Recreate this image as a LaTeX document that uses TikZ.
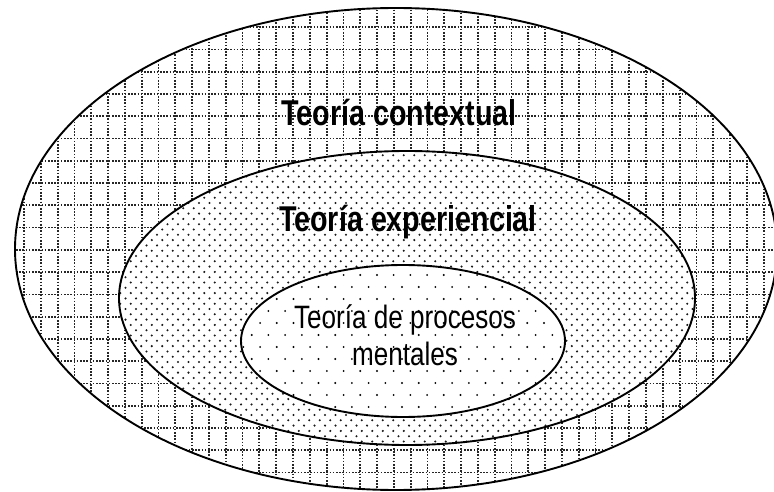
\documentclass[tikz,border=0pt]{standalone}
\usepackage{fontspec}
\usepackage{graphicx}
\setmainfont{Liberation Sans}
\tikzset{
  rim/.style={draw=black, line width=1.9pt},
  gridline/.style={draw=black!85, line width=1.8pt, dash pattern=on 1.6pt off 1.6pt},
  lbl/.style={anchor=base, inner sep=0pt, text=black},
}
\newcommand{\bigtxt}[1]{\scalebox{1}[1.25]{\fontsize{28.7}{34}\selectfont\bfseries #1}}
\newcommand{\midtxt}[1]{\scalebox{1}[1.24]{\fontsize{26.1}{31}\selectfont #1}}
\begin{document}
\begin{tikzpicture}[x=1pt,y=-1pt]
\useasboundingbox (0,0) rectangle (774,492);
\fill[white] (0,0) rectangle (774,492);
% outer ellipse with dotted grid
\begin{scope}
  \clip (396,249) ellipse [x radius=381, y radius=241];
  \foreach \k in {-3,...,19} {
    \draw[gridline] (0,{71.7+22.27*\k}) -- (780,{71.7+22.27*\k});
  }
  \foreach \k in {-8,...,38} {
    \draw[gridline] ({141.7+16.81*\k},0) -- ({141.7+16.81*\k},495);
  }
\end{scope}
% middle ellipse with dense dots
\fill[white] (407,298) ellipse [x radius=288, y radius=147];
\begin{scope}
  \clip (407,298) ellipse [x radius=288, y radius=147];
  \foreach \r in {0,...,56} {
    \pgfmathsetmacro{\yy}{150+5.3*\r}
    \pgfmathsetmacro{\off}{mod(\r,2)*5.25}
    \foreach \c in {0,...,56} {
      \fill[black!90] ({115+\off+10.5*\c},\yy) circle (1.15pt);
    }
  }
\end{scope}
% inner ellipse with sparse dots
\fill[white] (403,341) ellipse [x radius=162, y radius=76];
\begin{scope}
  \clip (403,341) ellipse [x radius=162, y radius=76];
  \foreach \r in {0,...,13} {
    \pgfmathsetmacro{\yy}{263+12*\r}
    \pgfmathsetmacro{\off}{mod(\r,2)*8.35}
    \foreach \c in {0,...,20} {
      \fill[black] ({235+\off+16.7*\c},\yy) circle (1.05pt);
    }
  }
\end{scope}
% outlines
\draw[rim] (396,249) ellipse [x radius=381, y radius=241];
\draw[rim] (407,298) ellipse [x radius=288, y radius=147];
\draw[rim] (403,341) ellipse [x radius=162, y radius=76];
% labels
\node[lbl] (ctx) at (399,125.4) {\bigtxt{Teoría contextual}};
\node[lbl] (exp) at (408,231.7) {\bigtxt{Teoría experiencial}};
\node[lbl] (pm1) at (405,328.3) {\midtxt{Teoría de procesos}};
\node[lbl] (pm2) at (405,365) {\midtxt{mentales}};
\end{tikzpicture}
\end{document}
